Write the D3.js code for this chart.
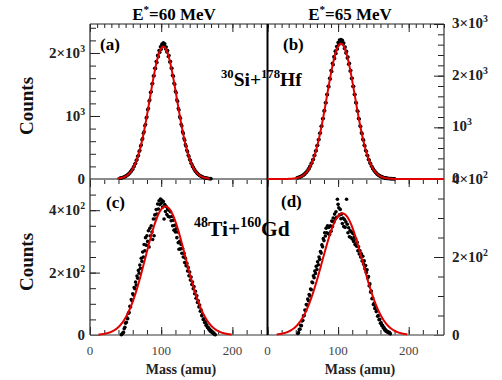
<!DOCTYPE html>
<html><head><meta charset="utf-8">
<script src="https://cdn.jsdelivr.net/npm/d3@7/dist/d3.min.js"></script>
<style>body{margin:0;background:#fff} svg{display:block}</style>
</head><body><svg id="c" width="502" height="380"></svg>
<script>
// ---------------- data ----------------
const panelTitles = ["E^*=60 MeV", "E^*=65 MeV"];
const panelLetters = ["(a)", "(b)", "(c)", "(d)"];
const reactions = ["^{30}Si+^{178}Hf", "^{48}Ti+^{160}Gd"];
const xTickValues = [0, 100, 200];
const xTickLabels = ["0", "100", "200"];
const xTitle = "Mass (amu)";
const yTitle = "Counts";

const yTicksA = [0, 1000, 2000];
const yLabelsA = ["0", "10^3", "2×10^3"];
const yTicksB = [0, 1000, 2000, 3000];
const yLabelsB = ["0", "10^3", "2×10^3", "3×10^3"];
const yTicksC = [0, 200, 400];
const yLabelsC = ["0", "2×10^2", "4×10^2"];
const yTicksD = [0, 200, 400];
const yLabelsD = ["0", "2×10^2", "4×10^2"];

// counts per mass bin (1 amu), starting at massStart
const massStartA = 42;
const countsA = [12,15,16,21,22,28,31,39,41,52,55,69,73,90,95,117,122,149,156,190,198,238,248,295,306,360,374,438,452,524,540,622,640,728,748,845,866,970,985,1100,1120,1236,1252,1372,1385,1508,1515,1635,1640,1758,1752,1865,1850,1962,1940,2040,2010,2098,2060,2140,2112,2160,2118,2145,2066,2095,2015,2038,1945,1960,1858,1866,1760,1756,1645,1632,1520,1502,1390,1368,1255,1232,1120,1095,988,964,868,840,750,724,642,616,545,520,455,434,378,358,308,292,250,235,200,187,158,148,124,116,96,89,73,68,56,51,42,38,31,28,22,20,16,15,11,11,8,8,5,6,3];
const massStartB = 42;
const countsB = [22,23,31,32,41,43,55,58,72,75,94,97,121,125,155,159,196,200,245,251,304,309,372,378,452,458,543,549,645,652,760,765,886,890,1020,1025,1165,1170,1318,1320,1475,1475,1635,1630,1795,1785,1950,1935,2100,2080,2240,2212,2365,2330,2475,2430,2565,2515,2640,2600,2690,2665,2700,2668,2685,2612,2630,2528,2555,2440,2470,2340,2360,2222,2238,2090,2100,1944,1950,1792,1795,1636,1635,1478,1472,1322,1312,1172,1160,1028,1014,892,878,768,752,654,640,550,538,459,448,379,369,310,301,251,243,200,194,159,153,125,120,97,93,75,71,57,55,43,41,32,31,24,22,17,17,12,12,9,10,8,8,6,7,5,5,4,3];
const massStartC = 44;
const countsC = [1,3,6,9,20,25,38,41,55,52,70,72,92,90,114,110,132,128,152,148,170,160,189,182,207,198,224,214,246,236,266,250,290,270,312,288,318,300,334,282,342,318,350,330,306,372,318,385,372,402,388,420,404,430,418,436,422,432,410,428,372,418,396,412,386,404,380,400,378,395,366,380,350,368,336,352,330,340,312,330,296,275,300,276,290,262,278,250,262,232,246,222,230,205,216,190,202,176,186,162,170,148,155,132,140,118,126,104,110,90,96,76,80,62,66,50,52,40,42,31,33,24,25,18,19,12,14,9,10,5,6,2,1];
const massStartD = 43;
const countsD = [4,6,14,15,25,24,36,38,49,50,64,63,78,77,92,88,104,100,118,116,136,134,152,147,164,158,176,168,188,180,200,194,214,210,231,226,247,242,262,254,274,262,280,260,276,258,280,266,292,278,300,290,310,298,316,302,348,335,326,308,322,298,310,286,300,278,296,276,290,348,284,262,275,252,268,250,264,246,260,240,252,232,246,228,238,216,226,208,216,200,208,190,202,182,190,170,178,160,167,146,150,126,131,110,113,93,95,78,81,68,72,60,62,48,50,39,40,30,31,24,25,18,19,13,14,9,10,7,8,5,6,3];

// Gaussian fit results: [amplitude, mean, sigma] and drawn mass range
const fitA = [2100, 103, 19];   const fitRangeA = [38, 168];
const fitB = [2620, 104, 20];   const fitRangeB = [0, 250];
const fitC = [412, 106, 28];    const fitRangeC = [12, 199];
const fitD = [312, 106, 28.5];  const fitRangeD = [13, 198];

// ---------------- drawing ----------------
const svg = d3.select('#c');
const serif = '"Liberation Serif","Times New Roman",serif';

const xL = d3.scaleLinear().domain([0, 250]).range([90, 268]);
const xR = d3.scaleLinear().domain([0, 250]).range([267.5, 444]);
const yA = d3.scaleLinear().domain([0, 2460]).range([179, 24]);
const yB = d3.scaleLinear().domain([0, 3000]).range([179, 24]);
const yC = d3.scaleLinear().domain([0, 500]).range([335, 179]);
const yD = d3.scaleLinear().domain([0, 400]).range([335, 179]);

function rich(str, x, y, fs, anchor, weight, fill) {
  const t = svg.append('text').attr('x', x).attr('y', y)
    .attr('font-family', serif).attr('font-size', fs)
    .attr('font-weight', weight || 'bold').attr('text-anchor', anchor || 'start')
    .attr('fill', fill || '#000');
  const re = /\^\{([^}]*)\}|\^(.)|([^^]+)/g; let m, off = 0;
  while ((m = re.exec(str)) !== null) {
    if (m[3] !== undefined) { t.append('tspan').attr('dy', -off).text(m[3]); off = 0; }
    else { const s = -fs * 0.4; t.append('tspan').attr('dy', s - off).attr('font-size', fs * 0.65).text(m[1] !== undefined ? m[1] : m[2]); off = s; }
  }
  return t;
}

const tickColor = '#222';
function axis(fn, scale, tr, vals, size) {
  svg.append('g').attr('transform', tr).attr('color', tickColor)
    .call(fn(scale).tickValues(vals).tickSize(size).tickFormat(''))
    .call(g => g.select('.domain').remove())
    .selectAll('line').attr('stroke-width', 1);
}
const range = (a, b, s) => d3.range(a, b + 0.001, s);

// y ticks
axis(d3.axisRight, yA, 'translate(90,0)', range(0, 2400, 200), 6);
axis(d3.axisRight, yA, 'translate(90,0)', yTicksA, 10);
axis(d3.axisRight, yC, 'translate(90,0)', range(0, 500, 50), 6);
axis(d3.axisRight, yC, 'translate(90,0)', yTicksC, 10);
axis(d3.axisLeft, yB, 'translate(444,0)', range(0, 3000, 200), 6);
axis(d3.axisLeft, yB, 'translate(444,0)', yTicksB, 10);
axis(d3.axisLeft, yD, 'translate(444,0)', range(0, 400, 50), 6);
axis(d3.axisLeft, yD, 'translate(444,0)', yTicksD, 10);
// x ticks
[xL, xR].forEach(xs => {
  axis(d3.axisBottom, xs, 'translate(0,24)', range(0, 250, 10), 4);
  axis(d3.axisBottom, xs, 'translate(0,24)', range(0, 250, 100), 8);
  axis(d3.axisBottom, xs, 'translate(0,179)', range(0, 250, 20), 5);
  axis(d3.axisBottom, xs, 'translate(0,179)', range(0, 250, 100), 8);
  axis(d3.axisTop, xs, 'translate(0,335)', range(0, 250, 20), 5);
  axis(d3.axisTop, xs, 'translate(0,335)', range(0, 250, 100), 8);
});

// frame lines
const ln = (x1, y1, x2, y2, c, w) => svg.append('line').attr('x1', x1).attr('y1', y1).attr('x2', x2).attr('y2', y2).attr('stroke', c).attr('stroke-width', w);
ln(90, 179, 444, 179, '#8a8a8a', 2);
ln(90, 335, 444, 335, '#777', 1.5);
ln(90, 24, 444, 24, '#222', 1.2);
ln(90, 24, 90, 335, '#333', 1.3);
ln(444, 24, 444, 335, '#333', 1.2);
ln(267.5, 24, 267.5, 335, '#000', 2);

// data panels
const panels = [
  { x: xL, y: yA, start: massStartA, counts: countsA, fit: fitA, fr: fitRangeA },
  { x: xR, y: yB, start: massStartB, counts: countsB, fit: fitB, fr: fitRangeB },
  { x: xL, y: yC, start: massStartC, counts: countsC, fit: fitC, fr: fitRangeC },
  { x: xR, y: yD, start: massStartD, counts: countsD, fit: fitD, fr: fitRangeD }
];
panels.forEach(p => {
  svg.append('g').selectAll('circle').data(p.counts).join('circle')
    .attr('cx', (d, i) => p.x(p.start + i)).attr('cy', d => p.y(d))
    .attr('r', 1.8).attr('fill', '#000');
  const [A, mu, s] = p.fit;
  const pts = d3.range(p.fr[0], p.fr[1] + 0.01, 0.5).map(m => [m, A * Math.exp(-((m - mu) ** 2) / (2 * s * s))]);
  svg.append('path').datum(pts)
    .attr('d', d3.line().x(d => p.x(d[0])).y(d => p.y(d[1])))
    .attr('fill', 'none').attr('stroke', '#e00000').attr('stroke-width', 2);
});

// y tick labels
const lab = '#222';
yTicksA.forEach((v, i) => rich(yLabelsA[i], 85, yA(v) + 5, 15, 'end', 'bold', lab));
yTicksC.forEach((v, i) => rich(yLabelsC[i], 85, yC(v) + 5, 15, 'end', 'bold', lab));
yTicksB.forEach((v, i) => rich(yLabelsB[i], 452, yB(v) + 4, 15, 'start', 'bold', lab));
yTicksD.forEach((v, i) => rich(yLabelsD[i], 452, yD(v) + 5, 15, 'start', 'bold', lab));

// x tick labels
[xL, xR].forEach(xs => xTickValues.forEach((v, i) =>
  rich(xTickLabels[i], xs(v), 355, 13, 'middle', 'normal', '#444')));
rich(xTitle, 181, 374, 14, 'middle', 'bold', '#222');
rich(xTitle, 360, 374, 14, 'middle', 'bold', '#222');

// y titles
[106, 262].forEach(cy => svg.append('text')
  .attr('transform', `translate(33,${cy}) rotate(-90)`)
  .attr('text-anchor', 'middle').attr('font-family', serif).attr('font-weight', 'bold')
  .attr('font-size', 19).attr('fill', '#111').text(yTitle));

// titles, letters, reactions
rich(panelTitles[0], 174, 20, 17, 'middle');
rich(panelTitles[1], 350, 20, 17, 'middle');
rich(panelLetters[0], 100, 50, 17);
rich(panelLetters[1], 283, 50, 17);
rich(panelLetters[2], 106, 208, 17);
rich(panelLetters[3], 281, 207, 17);
rich(reactions[0], 221, 86, 19.5);
rich(reactions[1], 194, 236, 21.5);
</script></body></html>
